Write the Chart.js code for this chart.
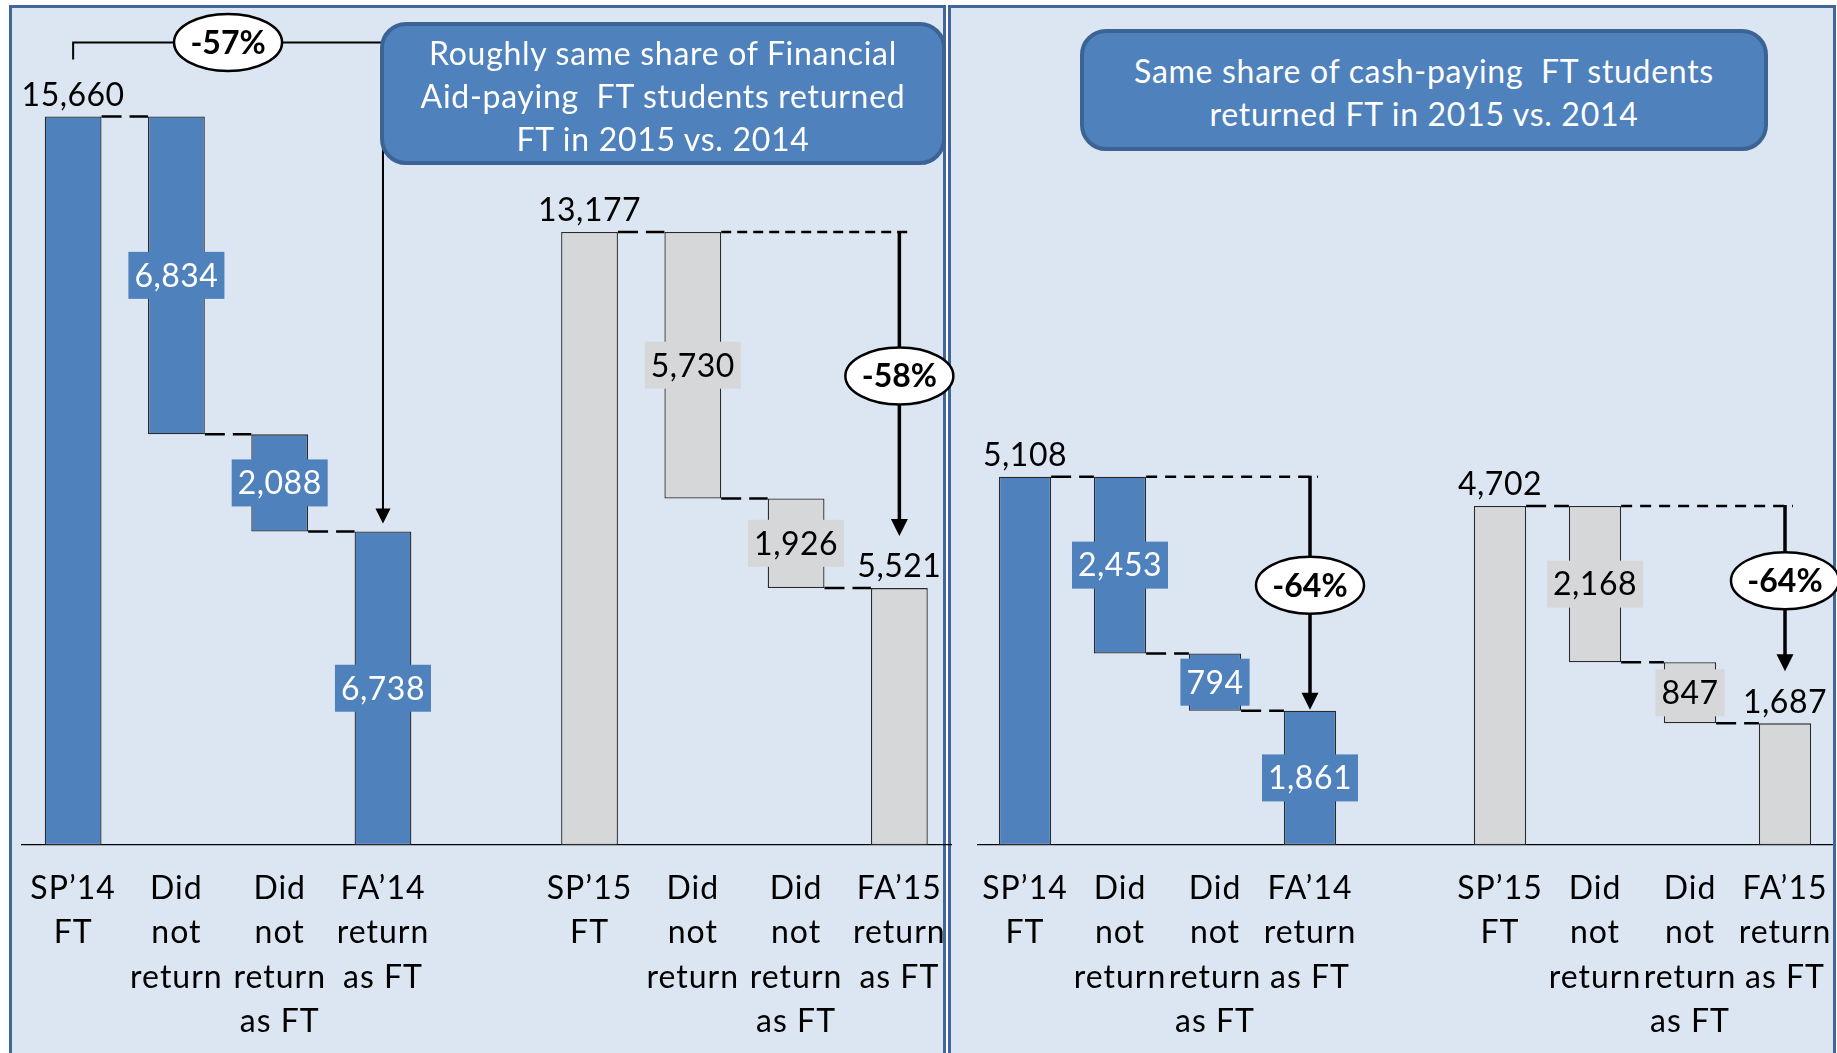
<!DOCTYPE html>
<html>
<head>
<meta charset="utf-8">
<script src="https://cdn.jsdelivr.net/npm/chart.js@4.4.0/dist/chart.umd.min.js"></script>
<style>
  html, body { margin: 0; padding: 0; background: #ffffff; }
  body { width: 1837px; height: 1053px; position: relative; overflow: hidden; font-family: Lato, "Open Sans", sans-serif; }
  .panel { position: absolute; top: 5px; height: 1070px; background: #dce6f2; border: 3px solid #41669a; box-sizing: border-box; }
  #panelL { left: 9px; width: 937px; }
  #panelR { left: 948px; width: 888px; }
  canvas { position: absolute; top: 0; z-index: 2; }
  #chartL { left: 0; }
  #chartR { left: 940px; }
  .callout { position: absolute; z-index: 5; background: #4f81bd; border: 4px solid #3b6494; border-radius: 26px;
             box-sizing: border-box; color: #ffffff; font-size: 32px; letter-spacing: 0.7px; line-height: 43px; text-align: center;
             display: flex; align-items: center; justify-content: center; white-space: nowrap; }
  #calloutL { left: 380px; top: 22px; width: 566px; height: 143px; padding-top: 3px; }
  #calloutR { left: 1080px; top: 29px; width: 688px; height: 122px; padding-top: 3px; }
</style>
</head>
<body>
<div class="panel" id="panelL"></div>
<div class="panel" id="panelR"></div>
<canvas id="chartL" width="960" height="1053"></canvas>
<canvas id="chartR" width="897" height="1053"></canvas>
<div class="callout" id="calloutL"><div>Roughly same share of Financial<br>Aid-paying&nbsp; FT students returned<br>FT in 2015 vs. 2014</div></div>
<div class="callout" id="calloutR"><div>Same share of cash-paying&nbsp; FT students<br>returned FT in 2015 vs. 2014</div></div>

<script>
// categories (same for both panels, blank slot between the two years)
const categories = [
  ['SP’14', 'FT'], ['Did', 'not', 'return'], ['Did', 'not', 'return', 'as FT'], ['FA’14', 'return', 'as FT'],
  '',
  ['SP’15', 'FT'], ['Did', 'not', 'return'], ['Did', 'not', 'return', 'as FT'], ['FA’15', 'return', 'as FT']
];
const stepTypes = ['total', 'drop', 'drop', 'total', null, 'total', 'drop', 'drop', 'total'];

// financial aid paying students
const aidValues = [15660, 6834, 2088, 6738, null, 13177, 5730, 1926, 5521];
const aidPct = ['-57%', '-58%'];

// cash paying students
const cashValues = [5108, 2453, 794, 1861, null, 4702, 2168, 847, 1687];
const cashPct = ['-64%', '-64%'];

// where each value label goes
const labelPlaces = ['above', 'box', 'box', 'box', null, 'above', 'box', 'box', 'above'];

const groupColors = ['#4f81bd', '#d6d7d9'];
const groupTextColors = ['#ffffff', '#000000'];

Chart.defaults.font.family = 'Lato';
Chart.defaults.color = '#000000';

function buildFloating(values, types) {
  let running = 0;
  return values.map((v, i) => {
    if (v === null) return null;
    if (types[i] === 'total') { running = v; return [0, v]; }
    const r = [running - v, running];
    running -= v;
    return r;
  });
}

function fmt(v) { return v.toLocaleString('en-US'); }

function arrowHead(ctx, x, tipY, len, halfW) {
  ctx.beginPath();
  ctx.moveTo(x, tipY);
  ctx.lineTo(x - halfW, tipY - len);
  ctx.lineTo(x + halfW, tipY - len);
  ctx.closePath();
  ctx.fill();
}

function oval(ctx, x, y, text) {
  ctx.save();
  ctx.beginPath();
  ctx.ellipse(x, y, 54, 28.5, 0, 0, Math.PI * 2);
  ctx.fillStyle = '#ffffff';
  ctx.fill();
  ctx.lineWidth = 2.5;
  ctx.strokeStyle = '#000000';
  ctx.stroke();
  ctx.fillStyle = '#000000';
  ctx.font = 'bold 32px Lato';
  ctx.letterSpacing = '0px';
  ctx.textAlign = 'center';
  ctx.textBaseline = 'middle';
  ctx.fillText(text, x, y + 1);
  ctx.restore();
}

// letter spacing for the tick labels (canvas text only)
const spacingPlugin = {
  id: 'spacing',
  beforeDraw(chart) { chart.ctx.letterSpacing = '1px'; }
};

function marksPlugin(cfg) {
  return {
    id: 'marks',
    afterDatasetsDraw(chart) {
      const ctx = chart.ctx;
      const meta = chart.getDatasetMeta(0);
      const ys = chart.scales.y;
      const ranges = cfg.ranges;
      const bar = i => {
        const el = meta.data[i];
        return { x: el.x, w: el.width, top: ys.getPixelForValue(ranges[i][1]), bottom: ys.getPixelForValue(ranges[i][0]) };
      };
      const groups = [[0, 3], [5, 8]];

      ctx.save();
      ctx.strokeStyle = '#000000';
      ctx.fillStyle = '#000000';

      groups.forEach((g, gi) => {
        const first = g[0], last = g[1];
        // step connectors
        for (let i = first; i < last; i++) {
          const a = bar(i), b = bar(i + 1);
          const level = stepTypes[i] === 'total' ? a.top : a.bottom;
          ctx.setLineDash([20, 8]);
          ctx.lineWidth = 2.5;
          ctx.beginPath();
          ctx.moveTo(a.x + a.w / 2, level);
          ctx.lineTo(b.x - b.w / 2, level);
          ctx.stroke();
        }
        ctx.setLineDash([]);

        const f = bar(first), l = bar(last);
        if (cfg.arrows[gi] === 'bracket') {
          const lineY = f.top - 74;
          const tip = l.top - 8;
          ctx.lineWidth = 2;
          ctx.beginPath();
          ctx.moveTo(f.x, f.top - 57);
          ctx.lineTo(f.x, lineY);
          ctx.lineTo(l.x, lineY);
          ctx.lineTo(l.x, tip - 14);
          ctx.stroke();
          arrowHead(ctx, l.x, tip, 15, 7.5);
          oval(ctx, (f.x + l.x) / 2, lineY, cfg.pct[gi]);
        } else {
          const s = bar(first + 1);
          ctx.setLineDash(cfg.dash);
          ctx.lineWidth = 2.5;
          ctx.beginPath();
          ctx.moveTo(s.x + s.w / 2, f.top);
          ctx.lineTo(l.x + 8, f.top);
          ctx.stroke();
          ctx.setLineDash([]);
          const tip = labelPlaces[last] === 'above' ? l.top - 52 : l.top - 1;
          ctx.lineWidth = 3.5;
          ctx.beginPath();
          ctx.moveTo(l.x, f.top - 1);
          ctx.lineTo(l.x, tip - 16);
          ctx.stroke();
          arrowHead(ctx, l.x, tip, 17, 8.5);
          oval(ctx, l.x, (f.top + tip) / 2 - 8, cfg.pct[gi]);
        }
      });

      // value labels
      ctx.font = '32px Lato';
      ctx.letterSpacing = '0.5px';
      ctx.textAlign = 'center';
      ctx.textBaseline = 'middle';
      cfg.values.forEach((v, i) => {
        if (v === null) return;
        const b = bar(i);
        const gi = i < 4 ? 0 : 1;
        const txt = fmt(v);
        if (labelPlaces[i] === 'above') {
          ctx.fillStyle = '#000000';
          ctx.fillText(txt, b.x, b.top - 21);
        } else {
          const tw = ctx.measureText(txt).width;
          const cy = (b.top + b.bottom) / 2;
          ctx.fillStyle = groupColors[gi];
          ctx.fillRect(b.x - tw / 2 - 6, cy - 23.5, tw + 12, 47);
          ctx.fillStyle = groupTextColors[gi];
          ctx.fillText(txt, b.x, cy + 1);
        }
      });
      ctx.restore();
    }
  };
}

function makeWaterfall(canvasId, values, pct, arrows, yMax, padding, dash) {
  const ranges = buildFloating(values, stepTypes);
  const colors = values.map((v, i) => i < 4 ? groupColors[0] : groupColors[1]);
  const ctx = document.getElementById(canvasId).getContext('2d');
  return new Chart(ctx, {
    type: 'bar',
    data: {
      labels: categories,
      datasets: [{
        data: ranges,
        backgroundColor: colors,
        borderColor: '#2a2a2a',
        borderWidth: 1.3,
        borderSkipped: false,
        barPercentage: 0.55,
        categoryPercentage: 1.0
      }]
    },
    options: {
      responsive: false,
      animation: false,
      layout: { padding: padding },
      plugins: { legend: { display: false }, tooltip: { enabled: false } },
      scales: {
        x: {
          offset: true,
          grid: { display: false, drawTicks: false },
          border: { display: true, color: '#000000', width: 1.2 },
          ticks: {
            color: '#000000',
            font: { family: 'Lato', size: 32, lineHeight: 1.39 },
            padding: 21,
            autoSkip: false,
            maxRotation: 0,
            minRotation: 0
          },
          afterFit: (scale) => {
            scale.height = 1053 - 845;
            scale.paddingLeft = 0;
            scale.paddingRight = 0;
          }
        },
        y: { display: false, min: 0, max: yMax }
      }
    },
    plugins: [spacingPlugin, marksPlugin({ ranges: ranges, values: values, pct: pct, arrows: arrows, dash: dash })]
  });
}

makeWaterfall('chartL', aidValues, aidPct, ['bracket', 'dashed'], 18000,
  { left: 21.5, right: 9, top: 7.5, bottom: 0 }, [10, 6]);
makeWaterfall('chartR', cashValues, cashPct, ['dashed', 'dashed'], 11600,
  { left: 37.5, right: 4.5, top: 8.6, bottom: 0 }, [11, 8]);
</script>
</body>
</html>
